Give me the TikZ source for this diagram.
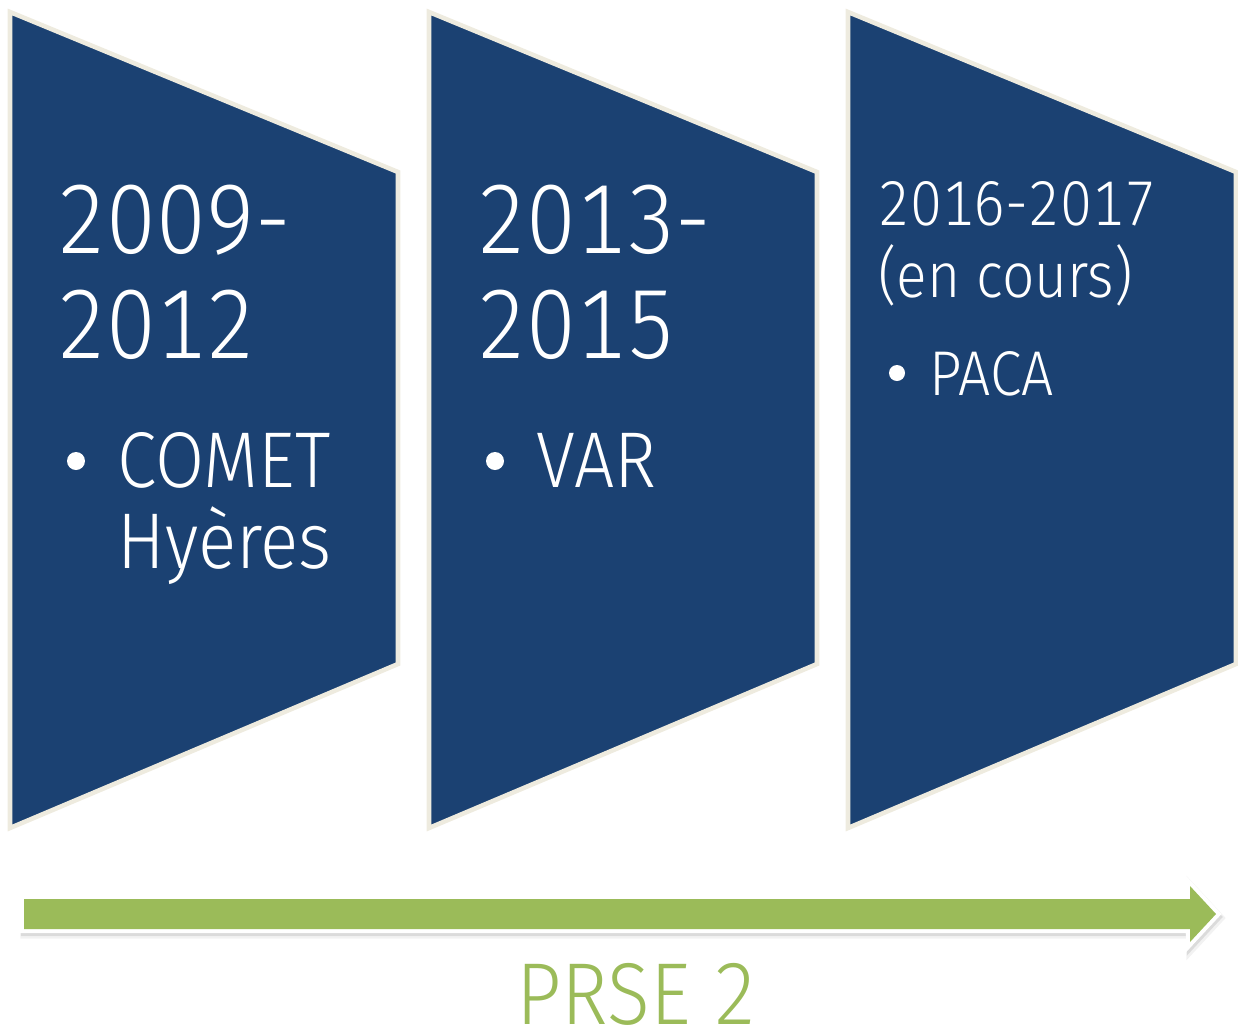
\documentclass[tikz,border=0pt]{standalone}
\usepackage{fontspec}
\setmainfont{Fira Sans}[UprightFont=* Light, FakeStretch=0.9, Numbers=Monospaced]
\definecolor{boxblue}{HTML}{1B4172}
\definecolor{boxrim}{HTML}{EEEBDF}
\definecolor{prsegreen}{HTML}{9BBB59}

\begin{document}
\begin{tikzpicture}[x=0.02cm,y=-0.02cm]
    \tikzset{period/.style = {draw=boxrim, line width=2.6pt, fill=boxblue, line join=miter}}
    \tikzset{year/.style = {anchor=base west, inner sep=0pt, text=white, font=\fontsize{56}{56}\selectfont}}
    \tikzset{item/.style = {anchor=base west, inner sep=0pt, text=white, font=\fontsize{45}{45}\selectfont}}
    \tikzset{note/.style = {anchor=base west, inner sep=0pt, text=white, font=\fontsize{36}{36}\selectfont}}
    \tikzset{dot/.style = {circle, fill=white, inner sep=0pt, minimum size=0.36cm}}
    \tikzset{halo/.style = {draw=gray, fill=gray, line join=miter}}

    \useasboundingbox (0,0) rectangle (1238,1032);

    % periods
    \draw[period] (10,12) -- (398,172) -- (398,664) -- (10,828) -- cycle;
    \draw[period] (429,12) -- (817,172) -- (817,664) -- (429,828) -- cycle;
    \draw[period] (848,12) -- (1236,172) -- (1236,664) -- (848,828) -- cycle;

    % first period
    \node[year] (ya) at (57,253) {2009-};
    \node[year] (yb) at (57,358) {2012};
    \node[dot] (da) at (76,461) {};
    \node[item] (ca) at (117,487) {COMET};
    \node[item] (cb) at (117,568) {Hyères};

    % second period
    \node[year] (yc) at (477,253) {2013-};
    \node[year] (yd) at (477,358) {2015};
    \node[dot] (db) at (495,461) {};
    \node[item] (cc) at (536,487) {VAR};

    % third period
    \node[note] (ye) at (878,225) {2016-2017};
    \node[note] (yf) at (878,297) {(en cours)};
    \node[dot, minimum size=0.32cm] (dc) at (897,373) {};
    \node[note] (cd) at (929,395) {PACA};

    % timeline arrow, white rim over a soft shadow
    \draw[halo, line width=6.4pt, opacity=0.1, shift={(2,4)}]
        (24,899) -- (1190,899) -- (1190,886) -- (1216,914) -- (1190,942) -- (1190,929) -- (24,929) -- cycle;
    \draw[halo, line width=4.8pt, opacity=0.2, shift={(1,3)}]
        (24,899) -- (1190,899) -- (1190,886) -- (1216,914) -- (1190,942) -- (1190,929) -- (24,929) -- cycle;
    \draw[white, line width=4.6pt, fill=prsegreen, line join=miter]
        (24,899) -- (1190,899) -- (1190,886) -- (1216,914) -- (1190,942) -- (1190,929) -- (24,929) -- cycle;
    \fill[prsegreen] (24,899) -- (1190,899) -- (1190,886) -- (1216,914) -- (1190,942) -- (1190,929) -- (24,929) -- cycle;

    \node[anchor=base, inner sep=0pt, text=prsegreen, font=\fontsize{50}{50}\selectfont] (prse) at (637,1024) {PRSE 2};
\end{tikzpicture}
\end{document}
